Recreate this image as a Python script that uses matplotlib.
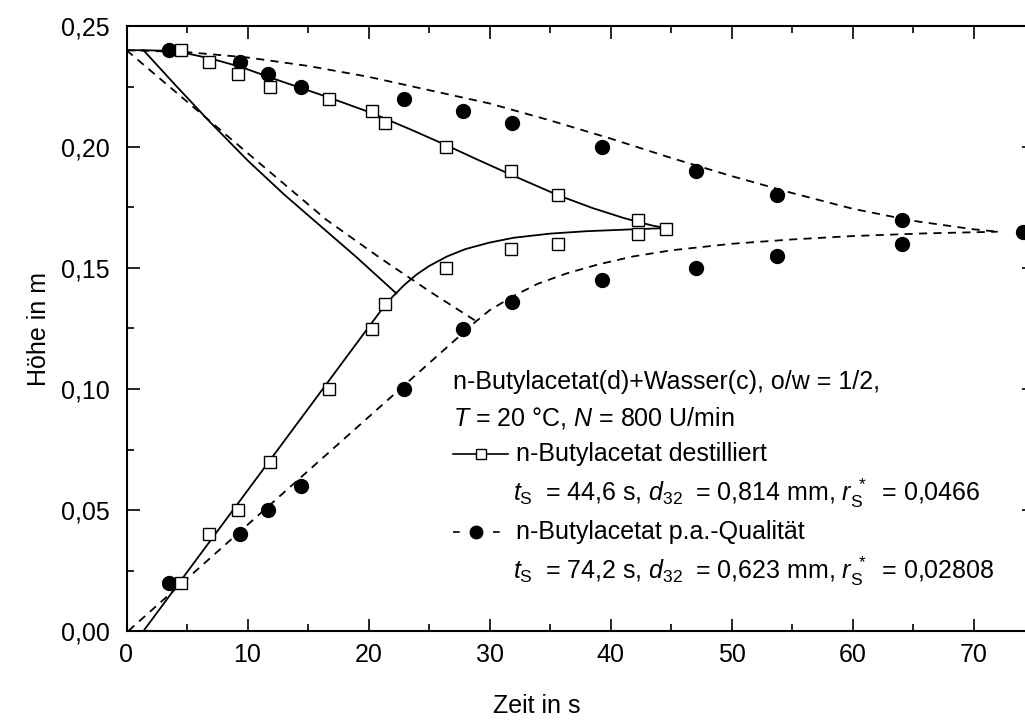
import numpy as np
import matplotlib.pyplot as plt
from matplotlib.lines import Line2D
from matplotlib.ticker import MultipleLocator, FuncFormatter

plt.rcParams['font.family'] = ['Liberation Sans', 'DejaVu Sans']
plt.rcParams['mathtext.fontset'] = 'custom'
plt.rcParams['mathtext.rm'] = 'Liberation Sans'
plt.rcParams['mathtext.it'] = 'Liberation Sans:italic'

# measured points, n-Butylacetat destilliert (squares)
dest_t_top = [4.5, 6.85, 9.2, 11.9, 16.7, 20.3, 21.4, 26.4, 31.8, 35.7, 42.3, 44.6]
dest_h_top = [0.240, 0.235, 0.230, 0.225, 0.220, 0.215, 0.210, 0.200, 0.190, 0.180, 0.170, 0.166]
dest_t_bot = [4.5, 6.85, 9.2, 11.9, 16.7, 20.3, 21.4, 26.4, 31.8, 35.7, 42.3]
dest_h_bot = [0.020, 0.040, 0.050, 0.070, 0.100, 0.125, 0.135, 0.150, 0.158, 0.160, 0.164]

# measured points, n-Butylacetat p.a. (circles)
pa_t_top = [3.5, 9.4, 11.7, 14.4, 22.9, 27.8, 31.9, 39.3, 47.1, 53.8, 64.1, 74.1]
pa_h_top = [0.240, 0.235, 0.230, 0.225, 0.220, 0.215, 0.210, 0.200, 0.190, 0.180, 0.170, 0.165]
pa_t_bot = [3.5, 9.4, 11.7, 14.4, 22.9, 27.8, 31.9, 39.3, 47.1, 53.8, 64.1]
pa_h_bot = [0.020, 0.040, 0.050, 0.060, 0.100, 0.125, 0.136, 0.145, 0.150, 0.155, 0.160]

m_dest_sed_t = [0, 1.4, 3, 4.5, 7, 9.5, 12, 16.7, 20.3, 23.5, 26.4, 29, 31.8, 35.7,
                38.5, 41, 42.3, 43.5, 44.6]
m_dest_sed_h = [0.240, 0.240, 0.2398, 0.2392, 0.2365, 0.2330, 0.2285, 0.2205, 0.2140,
                0.2072, 0.2008, 0.1948, 0.1885, 0.1800, 0.1748, 0.1708, 0.1690,
                0.1675, 0.1665]
m_dest_coal_t = [1.4, 4, 7, 10, 13, 16, 19, 22.3]
m_dest_coal_h = [0.240, 0.2258, 0.2098, 0.1945, 0.1805, 0.1675, 0.1545, 0.1395]
m_dest_dense_t = [1.4, 20, 21, 22, 23, 24, 25, 26.5, 28, 30, 32, 35, 38, 41.9, 44.6]
m_dest_dense_h = [0.0, 0.1255, 0.1322, 0.1382, 0.1432, 0.1474, 0.1508, 0.1548, 0.1578,
                  0.1605, 0.1625, 0.1642, 0.1652, 0.1660, 0.1665]

# model curves, p.a. - dashed
m_pa_sed_t = [0, 5, 10, 15, 20, 25, 30, 35, 40, 45, 50, 55, 60, 65, 70, 72]
m_pa_sed_h = [0.240, 0.2392, 0.2370, 0.2335, 0.2290, 0.2235, 0.2180, 0.2110, 0.2035,
              0.1955, 0.1880, 0.1810, 0.1745, 0.1695, 0.1660, 0.1650]
m_pa_coal_t = [0, 8, 16.5, 21, 25, 28.9]
m_pa_coal_h = [0.240, 0.206, 0.170, 0.154, 0.1405, 0.128]
m_pa_dense_t = [0.15, 28.9, 30, 32, 34, 36.4, 39, 41.9, 45, 50, 55, 60, 66, 72]
m_pa_dense_h = [0.0, 0.128, 0.1325, 0.1385, 0.1435, 0.1478, 0.1515, 0.1548, 0.1573,
                0.1600, 0.1618, 0.1632, 0.1643, 0.1650]

W, H = 1025, 727
fig = plt.figure(figsize=(W / 100, H / 100), dpi=100)
# axes runs past the right edge of the picture (cropped like the original)
ax = fig.add_axes([126.5 / W, 96 / H, 907.5 / W, 605 / H])

lw = 1.3
dash = (0, (4.5, 3.5))
for t, h in [(m_dest_sed_t, m_dest_sed_h), (m_dest_coal_t, m_dest_coal_h),
             (m_dest_dense_t, m_dest_dense_h)]:
    ax.plot(t, h, color='black', lw=lw, zorder=2)
for t, h in [(m_pa_sed_t, m_pa_sed_h), (m_pa_coal_t, m_pa_coal_h),
             (m_pa_dense_t, m_pa_dense_h)]:
    ax.plot(t, h, color='black', lw=lw, linestyle=dash, zorder=2)

ax.plot(pa_t_top + pa_t_bot, pa_h_top + pa_h_bot, 'o', color='black', ms=10,
        zorder=3, clip_on=False)
ax.plot(dest_t_top + dest_t_bot, dest_h_top + dest_h_bot, 's', mfc='white',
        mec='black', mew=1.0, ms=8.8, zorder=4)

ax.set_xlim(0, 75)
ax.set_ylim(0, 0.25)
ax.xaxis.set_major_locator(MultipleLocator(10))
ax.xaxis.set_minor_locator(MultipleLocator(5))
ax.yaxis.set_major_locator(MultipleLocator(0.05))
ax.yaxis.set_minor_locator(MultipleLocator(0.025))
ax.yaxis.set_major_formatter(FuncFormatter(lambda v, p: f'{v:.2f}'.replace('.', ',')))
ax.tick_params(which='both', direction='in', top=True, right=True, width=1.2,
               labelsize=18)
ax.tick_params(which='major', length=9)
ax.tick_params(which='minor', length=5)
ax.tick_params(axis='x', which='major', pad=9)
ax.tick_params(axis='y', which='major', pad=12)
for s in ax.spines.values():
    s.set_linewidth(1.5)

ax.set_xlabel('Zeit in s', fontsize=18)
ax.set_ylabel('Höhe in m', fontsize=18)
ax.xaxis.set_label_coords((537 - 126.5) / 907.5, -(694 - 631) / 605)
ax.yaxis.set_label_coords(-(127 - 52) / 907.5, 0.5)

# legend block, placed in picture pixels
fs = 18
def px(x, y):
    return x / W, 1 - y / H

fig.text(*px(453, 382), 'n-Butylacetat(d)+Wasser(c), o/w = 1/2,', fontsize=fs, va='center')
fig.text(*px(453, 418), '$T$ = 20 °C, $N$ = 800 U/min', fontsize=fs, va='center')
fig.text(*px(516, 454), 'n-Butylacetat destilliert', fontsize=fs, va='center')
fig.text(*px(513, 493),
         r'$t_\mathrm{S}\;$ = 44,6 s, $d_{32}\;$ = 0,814 mm, $r_{\mathrm{S}}^{\;*}\;$ = 0,0466',
         fontsize=fs, va='center')
fig.text(*px(516, 532), 'n-Butylacetat p.a.-Qualität', fontsize=fs, va='center')
fig.text(*px(513, 571),
         r'$t_\mathrm{S}\;$ = 74,2 s, $d_{32}\;$ = 0,623 mm, $r_{\mathrm{S}}^{\;*}\;$ = 0,02808',
         fontsize=fs, va='center')

x0, y0 = px(453, 454)
x1, _ = px(508, 454)
fig.add_artist(Line2D([x0, x1], [y0, y0], color='black', lw=1.2))
fig.add_artist(Line2D([(x0 + x1) / 2], [y0], marker='s', ms=7.5, mfc='white',
                      mec='black', mew=1.0))
x0, y0 = px(453, 532)
x1, _ = px(500, 532)
fig.add_artist(Line2D([x0, x1], [y0, y0], color='black', lw=1.2, linestyle=(0, (4, 8))))
fig.add_artist(Line2D([(x0 + x1) / 2], [y0], marker='o', ms=9, color='black'))

fig.savefig('out.png', dpi=100)
